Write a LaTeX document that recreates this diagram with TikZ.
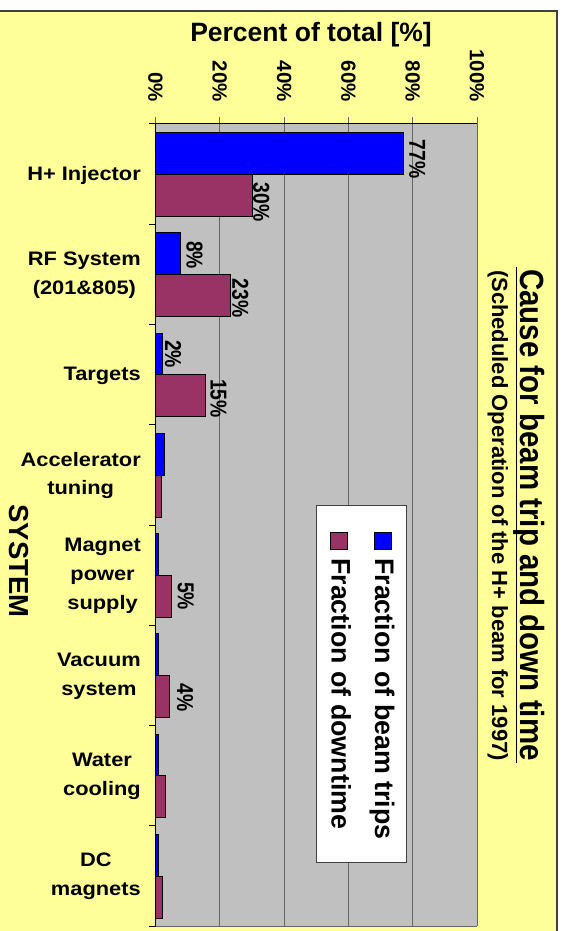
\documentclass[tikz,border=0pt]{standalone}
\usepackage{fontspec}
\setmainfont{Liberation Sans}
\newfontfamily\narrowfont{Liberation Sans}[FakeStretch=0.84]
\newfontfamily\widefont{Liberation Sans}[FakeStretch=1.12]
\newfontfamily\titlefont{Liberation Sans}[FakeStretch=0.88]
\usepackage{tikz}
\definecolor{chartyellow}{HTML}{FFFF99}
\definecolor{plotgray}{HTML}{C0C0C0}
\definecolor{gridgray}{HTML}{666666}
\definecolor{framegray}{HTML}{404040}
\definecolor{tripblue}{HTML}{0000FF}
\definecolor{downmaroon}{HTML}{993366}
\newcommand{\gridmark}[2]{
    \draw[gridline] (#1,117) -- (#1,926);
    \node[ticklabel] (tick#2) at (#1,102) {#2\%};
}
\newcommand{\catmark}[1]{
    \draw[axisline] (149,#1) -- (155.5,#1);
}
\newcommand{\barpair}[3]{
    \draw[tripbar] (155.5,{132.5+100.25*#1}) rectangle ({155.5+3.215*#2},{174.4+100.25*#1});
    \draw[downbar] (155.5,{174.4+100.25*#1}) rectangle ({155.5+3.215*#3},{216.4+100.25*#1});
}

\begin{document}
\begin{tikzpicture}[x=1pt, y=-1pt,
        gridline/.style={draw=gridgray, line width=1pt},
        axisline/.style={draw=black, line width=1pt},
        tripbar/.style={fill=tripblue, draw=black, line width=0.9pt},
        downbar/.style={fill=downmaroon, draw=black, line width=0.9pt},
        ticklabel/.style={font=\bfseries\fontsize{20.5}{24}\selectfont, rotate=-90, anchor=east, inner sep=0pt},
        vallabel/.style={font=\narrowfont\bfseries\fontsize{23}{26}\selectfont, rotate=-90, anchor=base, inner sep=0pt},
        catlabel/.style={font=\widefont\bfseries\fontsize{19.5}{28.7}\selectfont, align=center, anchor=east, inner sep=0pt},
        keytext/.style={font=\bfseries\fontsize{26.8}{30}\selectfont, rotate=-90, anchor=base west, inner sep=0pt},
        keybox/.style={draw=black, line width=0.8pt, minimum size=17pt, inner sep=0pt}]
    \useasboundingbox (0,0) rectangle (567,931);
    % frame
    \fill[chartyellow] (0,11) rectangle (557,931);
    \draw[framegray, line width=1.5pt] (0,11) -- (557,11) -- (557,931);
    % plot area
    \fill[plotgray] (155.5,124) rectangle (477,926);
    \gridmark{155.5}{0}
    \gridmark{219.8}{20}
    \gridmark{284.1}{40}
    \gridmark{348.4}{60}
    \gridmark{412.7}{80}
    \gridmark{477}{100}
    \draw[gridline] (155.5,926) -- (477,926);
    \draw[axisline] (155.5,124) -- (477,124);
    \draw[axisline] (155.5,124) -- (155.5,926);
    \catmark{124}
    \catmark{224.25}
    \catmark{324.5}
    \catmark{424.75}
    \catmark{525}
    \catmark{625.25}
    \catmark{725.5}
    \catmark{825.75}
    \catmark{926}
    % bars
    \barpair{0}{77}{30}
    \barpair{1}{7.7}{23.2}
    \barpair{2}{2.3}{15.4}
    \barpair{3}{2.7}{1.8}
    \barpair{4}{0.9}{4.9}
    \barpair{5}{0.9}{4.2}
    \barpair{6}{0.9}{3}
    \barpair{7}{0.9}{2.2}
    % value labels
    \node[vallabel] (val77) at (409.3,159) {77\%};
    \node[vallabel] (val30) at (253.3,202) {30\%};
    \node[vallabel] (val8) at (186.7,255) {8\%};
    \node[vallabel] (val23) at (232.3,298) {23\%};
    \node[vallabel] (val2) at (165.2,354) {2\%};
    \node[vallabel] (val15) at (210.5,398.5) {15\%};
    \node[vallabel] (val5) at (177.9,596) {5\%};
    \node[vallabel] (val4) at (177.1,697.5) {4\%};
    % categories
    \node[catlabel] (injector) at (141,175) {H+ Injector};
    \node[catlabel] (rfsystem) at (141,275) {RF System\\(201\&805)};
    \node[catlabel] (targets) at (141,375.5) {Targets};
    \node[catlabel] (acctuning) at (141,475.5) {Accelerator\\tuning};
    \node[catlabel] (magnetps) at (141,576) {Magnet\\power\\supply};
    \node[catlabel] (vacuum) at (141,676) {Vacuum\\system};
    \node[catlabel] (water) at (141,776.5) {Water\\cooling};
    \node[catlabel] (dcmagnets) at (141,876.5) {DC\\magnets};
    % legend
    \node[draw=framegray, line width=1pt, fill=white, minimum width=90pt, minimum height=357pt, inner sep=0pt] (legendbox) at (361,683.5) {};
    \node[keybox, fill=tripblue] (tripkey) at (382.5,540.5) {};
    \node[keybox, fill=downmaroon] (downkey) at (338.5,540.5) {};
    \node[keytext] (tripkeytext) at (375,558) {Fraction of beam trips};
    \node[keytext] (downkeytext) at (331.7,558) {Fraction of downtime};
    % titles
    \node[font=\bfseries\fontsize{26.5}{30}\selectfont, anchor=base, inner sep=0pt] (axistitle) at (311,41.5) {Percent of total [\%]};
    \node[font=\bfseries\fontsize{27.5}{30}\selectfont, rotate=-90, anchor=base, inner sep=0pt] (systemtitle) at (9.5,561) {SYSTEM};
    \node[font=\titlefont\bfseries\fontsize{33.5}{38}\selectfont, rotate=-90, anchor=base, inner sep=0pt] (charttitle) at (520,515) {Cause for beam trip and down time};
    \draw[line width=1.5pt] ([xshift=-3.5pt,yshift=2pt]charttitle.base west) -- ([xshift=-3.5pt,yshift=-2pt]charttitle.base east);
    \node[font=\bfseries\fontsize{22}{26}\selectfont, rotate=-90, anchor=base, inner sep=0pt] (subtitle) at (492,515.5) {(Scheduled Operation of the H+ beam for 1997)};
\end{tikzpicture}
\end{document}
